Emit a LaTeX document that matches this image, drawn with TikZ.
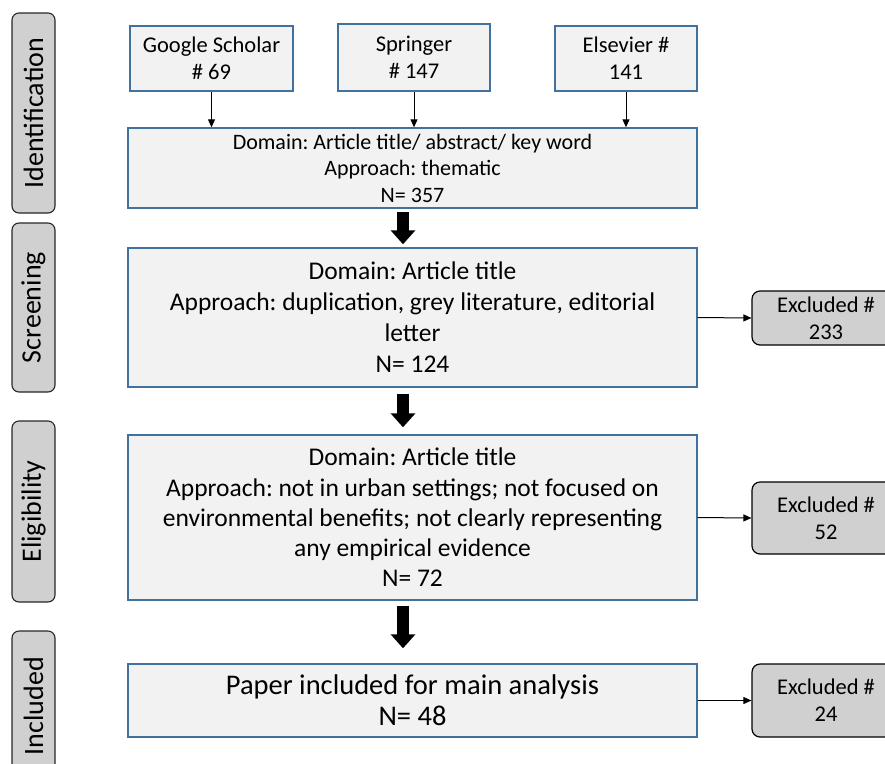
\documentclass[tikz,border=0pt]{standalone}
\usepackage{fontspec}
\setmainfont{Carlito}
\usetikzlibrary{arrows.meta}
\definecolor{boxblue}{HTML}{41719C}
\definecolor{boxfill}{HTML}{F2F2F2}
\definecolor{labfill}{HTML}{D0D0D0}
\frenchspacing
\begin{document}
\begin{tikzpicture}[x=1pt,y=-1pt,
  mainbox/.style={draw=boxblue,fill=boxfill,line width=1.4pt,align=center,inner sep=2pt},
  labbox/.style={draw=black!85,fill=labfill,line width=1.1pt,rounded corners=7pt,rotate=90,
     minimum height=43pt,inner sep=0pt,font=\fontsize{28}{32}\selectfont},
  exbox/.style={draw=black,fill=labfill,line width=1.2pt,rounded corners=8pt,align=center,
     minimum width=148pt,font=\fontsize{22.5}{27}\selectfont},
  thin/.style={-{Triangle[width=7pt,length=8pt]},line width=1pt},
  bigarrow/.style={-{Triangle[width=24pt,length=14pt]},line width=12pt}
]
\useasboundingbox (0,0) rectangle (885,763);
\begin{scope}
\clip (0,0) rectangle (885,763);
% stage labels
\node[labbox,minimum width=200pt] (l1) at (33.5,113) {Identification};
\node[labbox,minimum width=169pt] (l2) at (33.5,307.5) {Screening};
\node[labbox,minimum width=181pt] (l3) at (33.5,511.5) {Eligibility};
\node[labbox,minimum width=150pt] (l4) at (33.5,706) {Included};
% sources
\node[mainbox,minimum width=163pt,minimum height=65pt,font=\fontsize{22.5}{27}\selectfont] (gs) at (211.5,58.5) {Google Scholar\\\# 69};
\node[mainbox,minimum width=152pt,minimum height=67pt,font=\fontsize{22.5}{27}\selectfont] (sp) at (414,57.5) {Springer\\\# 147};
\node[mainbox,minimum width=142pt,minimum height=65pt,font=\fontsize{22.5}{27}\selectfont] (el) at (626,58.5) {Elsevier \#\\141};
% main boxes
\node[mainbox,minimum width=569pt,minimum height=80pt,font=\fontsize{22}{26.5}\selectfont] (id) at (412.5,168)
  {Domain: Article title/ abstract/ key word\\Approach: thematic\\N= 357};
\node[mainbox,minimum width=569pt,minimum height=139pt,font=\fontsize{25.5}{31}\selectfont] (scr) at (412.5,317.5)
  {Domain: Article title\\Approach: duplication, grey literature, editorial\\letter\\N= 124};
\node[mainbox,minimum width=569pt,minimum height=165pt,font=\fontsize{25.5}{30.3}\selectfont] (elig) at (412.5,517.5)
  {Domain: Article title\\Approach: not in urban settings; not focused on\\environmental benefits; not clearly representing\\any empirical evidence\\N= 72};
\node[mainbox,minimum width=569pt,minimum height=73pt,font=\fontsize{28.5}{31}\selectfont] (inc) at (412.5,700.5)
  {Paper included for main analysis\\N= 48};
% excluded
\node[exbox,minimum height=54pt] (ex1) at (826,318) {Excluded \#\\233};
\node[exbox,minimum height=72pt] (ex2) at (826,518) {Excluded \#\\52};
\node[exbox,minimum height=73pt] (ex3) at (826,700.5) {Excluded \#\\24};
% thin arrows
\draw[thin] (gs) -- (gs |- id.north);
\draw[thin] (sp) -- (sp |- id.north);
\draw[thin] (el) -- (el |- id.north);
\draw[thin] (scr.east) -- (ex1.west);
\draw[thin] (elig.east) -- (ex2.west);
\draw[thin] (inc.east) -- (ex3.west);
% thick arrows
\coordinate (ax) at (403,0);
\draw[bigarrow,shorten <=3pt,shorten >=3pt] (id.south -| ax) -- (scr.north -| ax);
\draw[bigarrow,shorten <=6pt,shorten >=7pt] (scr.south -| ax) -- (elig.north -| ax);
\draw[bigarrow,shorten <=5pt,shorten >=15pt] (elig.south -| ax) -- (inc.north -| ax);
\end{scope}
\end{tikzpicture}
\end{document}
